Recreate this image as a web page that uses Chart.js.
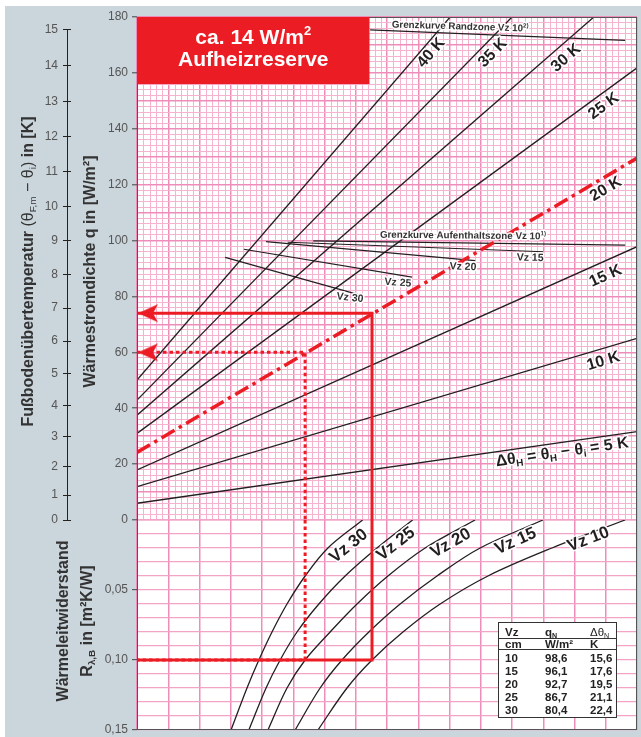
<!DOCTYPE html>
<html lang="de">
<head>
<meta charset="UTF-8">
<title>Auslegungsdiagramm Fußbodenheizung</title>
<script src="https://cdn.jsdelivr.net/npm/chart.js"></script>
<style>
  body { margin: 0; background: #fff; }
  canvas { display: block; }
</style>
</head>
<body>
<canvas id="diagramm" width="641" height="737"></canvas>
<script>
// --- Heizkennlinien (oberes Feld), q in W/m² ---
const kurvenK = [5, 10, 15, 20, 25, 30, 35, 40];
const qStart = [6.0, 11.9, 17.9, 24.2, 31.0, 37.5, 42.9, 50.1];
const xEnde = [16, 16, 16, 16, 16, 14.62, 12.0, 10.02];
const qEnde = [31.6, 65.0, 97.8, 129.5, 161.8, 180, 180, 180];

// --- Grenzkurven ---
const vzWerte = [10, 15, 20, 25, 30];
const grenzStartX = [5.64, 4.83, 4.13, 3.42, 2.82];
const grenzStartQ = [99.9, 99.4, 99.6, 96.9, 94.0];
const grenzEndeX = [15.62, 13.0, 10.82, 8.80, 7.20];
const grenzEndeQ = [98.4, 96.0, 92.8, 86.9, 80.3];
const randzoneX = [7.46, 15.62];
const randzoneQ = [175.4, 171.6];

// --- Wärmeleitwiderstand (unteres Feld) ---
const rStufen = [0, 0.02, 0.04, 0.06, 0.08, 0.10, 0.12, 0.15];
const vz10X = [15.62, 13.28, 11.23, 9.70, 8.51, 7.52, 6.72, 5.79];
const vz15X = [12.99, 10.98, 9.60, 8.42, 7.42, 6.56, 5.86, 5.06];
const vz20X = [10.82, 9.22, 8.03, 7.04, 6.18, 5.38, 4.80, 4.19];
const vz25X = [8.82, 7.68, 6.66, 5.82, 5.12, 4.58, 4.13, 3.58];
const vz30X = [7.22, 6.11, 5.38, 4.80, 4.32, 3.90, 3.52, 3.01];

// --- Ablesebeispiel ---
const beispielX = [7.52, 5.38];
const beispielQ = [74, 60];
const beispielR = 0.10;

// --- Tabelle ---
const tabVz = [10, 15, 20, 25, 30];
const tabQN = [98.6, 96.1, 92.7, 86.7, 80.4];
const tabDeltaN = [15.6, 17.6, 19.5, 21.1, 22.4];

// --- Achsbeschriftungen ---
const kTickLabels = [0, 1, 2, 3, 4, 5, 6, 7, 8, 9, 10, 11, 12, 13, 14, 15];
const qTickLabels = [0, 20, 40, 60, 80, 100, 120, 140, 160, 180];
const rTickWerte = [0.05, 0.10, 0.15];
const rTickText = ['0,05', '0,10', '0,15'];

const rot = '#ec1c24';
const schwarz = '#231f20';
const minorPink = '#f6b3cf';
const majorPink = '#ef8dba';
const schrift = '"Liberation Sans", Arial, sans-serif';

// Fußbodenübertemperatur -> Wärmestromdichte (Basiskennlinie q = 8,92 * dT^1,1)
const kZuQ = k => 8.92 * Math.pow(k, 1.1);

function pfeil() {
  const cv = document.createElement('canvas');
  cv.width = 46; cv.height = 20;
  const g = cv.getContext('2d');
  g.fillStyle = rot;
  g.beginPath();
  g.moveTo(24, 10); g.lineTo(44, 1); g.lineTo(39, 10); g.lineTo(44, 19);
  g.closePath();
  g.fill();
  return cv;
}
const pfeilBild = pfeil();

const datasets = [];

// rote Konstruktionslinien
beispielX.forEach((bx, i) => {
  const dash = i === 0 ? [] : [3.5, 3];
  datasets.push({
    data: [{x: 0, y: beispielQ[i]}, {x: bx, y: beispielQ[i]}, {x: bx, y: 0}],
    yAxisID: 'yQ', showLine: true, borderColor: rot, borderWidth: 3, borderDash: dash,
    pointRadius: c => c.dataIndex === 0 ? 5 : 0,
    pointStyle: c => c.dataIndex === 0 ? pfeilBild : false,
    order: 0
  });
  datasets.push({
    data: [{x: bx, y: 0}, {x: bx, y: beispielR}, {x: 0, y: beispielR}],
    yAxisID: 'yR', showLine: true, borderColor: rot, borderWidth: 3, borderDash: dash,
    pointRadius: 0, order: i === 0 ? 0 : 1
  });
});

kurvenK.forEach((k, i) => {
  const istRot = k === 20;
  datasets.push({
    data: [{x: 0, y: qStart[i]}, {x: xEnde[i], y: qEnde[i]}],
    yAxisID: 'yQ', showLine: true, pointRadius: 0,
    borderColor: istRot ? rot : schwarz,
    borderWidth: istRot ? 3.5 : 1.3,
    borderDash: istRot ? [15, 5, 3.5, 5] : [],
    order: istRot ? 1 : 3
  });
});

vzWerte.forEach((vz, i) => {
  datasets.push({
    data: [{x: grenzStartX[i], y: grenzStartQ[i]}, {x: grenzEndeX[i], y: grenzEndeQ[i]}],
    yAxisID: 'yQ', showLine: true, pointRadius: 0, borderColor: schwarz, borderWidth: 1.2, order: 3
  });
});
datasets.push({
  data: randzoneX.map((x, i) => ({x: x, y: randzoneQ[i]})),
  yAxisID: 'yQ', showLine: true, pointRadius: 0, borderColor: schwarz, borderWidth: 1.2, order: 3
});

const vzKurven = [vz10X, vz15X, vz20X, vz25X, vz30X];
vzKurven.forEach(xs => {
  datasets.push({
    data: xs.map((x, i) => ({x: x, y: rStufen[i]})),
    yAxisID: 'yR', showLine: true, pointRadius: 0, borderColor: schwarz, borderWidth: 1.3,
    tension: 0.35, order: 3
  });
});

// Text mit Tief-/Hochstellung; teile = [[text, art]], art: '', 'n', 'sub', 'nsub', 'sup'
function fontFuer(art, groesse) {
  const klein = art === 'sub' || art === 'sup' || art === 'nsub';
  const px = klein ? groesse * 0.62 : groesse;
  const gewicht = art.charAt(0) === 'n' ? 'normal' : 'bold';
  return gewicht + ' ' + px.toFixed(1) + 'px ' + schrift;
}
function zeichneText(c, teile, x, y, winkel, groesse, farbe, halo) {
  c.save();
  c.translate(x, y);
  c.rotate(winkel);
  c.textAlign = 'left';
  c.textBaseline = 'alphabetic';
  let breite = 0;
  for (const [t, art] of teile) { c.font = fontFuer(art, groesse); breite += c.measureText(t).width; }
  const durchgaenge = halo ? ['halo', 'fill'] : ['fill'];
  for (const d of durchgaenge) {
    let px = -breite / 2;
    for (const [t, art] of teile) {
      c.font = fontFuer(art, groesse);
      let dy = groesse * 0.36;
      if (art.endsWith('sub')) dy += groesse * 0.2;
      if (art === 'sup') dy -= groesse * 0.4;
      if (d === 'halo') {
        c.lineWidth = 3; c.lineJoin = 'round'; c.strokeStyle = 'rgba(255,255,255,0.95)';
        c.strokeText(t, px, dy);
      } else {
        c.fillStyle = farbe;
        c.fillText(t, px, dy);
      }
      px += c.measureText(t).width;
    }
  }
  c.restore();
}

// Lage der Beschriftungen (in Achswerten)
const kLabelPos = [[13.6, 24.7], [14.91, 57.3], [14.98, 87.7], [14.98, 118.8], [14.91, 148.5], [13.70, 165.7], [11.36, 167.5], [9.38, 167.5]];
const vzLabelPos = [[14.43, 0.0129], [12.10, 0.0143], [10.02, 0.0157], [8.26, 0.0164], [6.75, 0.0179]];
const grenzLabelPos = [null, [12.58, 94.1], [10.43, 90.9], [8.35, 85.2], [6.82, 79.8]];

const hintergrund = {
  id: 'hintergrund',
  beforeDraw(chart) {
    const c = chart.ctx, a = chart.chartArea;
    const xs = chart.scales.x, qs = chart.scales.yQ;
    c.save();
    c.fillStyle = '#fff';
    c.fillRect(0, 0, chart.width, chart.height);
    c.fillStyle = '#cbd5dc';
    c.fillRect(5, 6, chart.width - 5, chart.height - 6);
    c.fillStyle = '#fff';
    c.fillRect(a.left, a.top, a.right - a.left, a.bottom - a.top);
    // feine senkrechte Teilung nur im oberen Feld
    c.strokeStyle = minorPink;
    c.lineWidth = 1;
    c.beginPath();
    for (let i = 1; i < 80; i++) {
      if (i % 5 === 0) continue;
      const px = Math.round(xs.getPixelForValue(i / 5)) + 0.5;
      c.moveTo(px, qs.top);
      c.lineTo(px, qs.bottom);
    }
    c.stroke();
    c.restore();
  }
};

const beschriftung = {
  id: 'beschriftung',
  afterDatasetsDraw(chart) {
    const c = chart.ctx, a = chart.chartArea;
    const xs = chart.scales.x, qs = chart.scales.yQ, rs = chart.scales.yR;
    c.save();
    c.strokeStyle = '#555';
    c.lineWidth = 1;
    c.strokeRect(a.left + 0.5, a.top + 0.5, a.right - a.left - 1, a.bottom - a.top - 1);

    // rotes Feld
    const bx0 = xs.getPixelForValue(0), bx1 = xs.getPixelForValue(7.44);
    const by0 = qs.getPixelForValue(180), by1 = qs.getPixelForValue(156);
    c.fillStyle = rot;
    c.fillRect(bx0, by0, bx1 - bx0, by1 - by0);
    const bm = (bx0 + bx1) / 2;
    zeichneText(c, [['ca. 14 W/m', ''], ['2', 'sup']], bm, by0 + 19, 0, 21, '#fff', false);
    zeichneText(c, [['Aufheizreserve', '']], bm, by0 + 41, 0, 21, '#fff', false);

    // Kennlinien-Beschriftung
    kurvenK.forEach((k, i) => {
      const p1x = xs.getPixelForValue(0), p1y = qs.getPixelForValue(qStart[i]);
      const p2x = xs.getPixelForValue(xEnde[i]), p2y = qs.getPixelForValue(qEnde[i]);
      const w = Math.atan2(p2y - p1y, p2x - p1x);
      const lx = xs.getPixelForValue(kLabelPos[i][0]), ly = qs.getPixelForValue(kLabelPos[i][1]);
      const teile = k === 5
        ? [['Δθ', ''], ['H', 'sub'], [' = θ', ''], ['H', 'sub'], [' − θ', ''], ['i', 'sub'], [' = 5 K', '']]
        : [[k + ' K', '']];
      zeichneText(c, teile, lx, ly, w, 16, schwarz, true);
    });

    // Vz-Kurven unten
    vzKurven.forEach((xsVz, i) => {
      const p1x = xs.getPixelForValue(xsVz[0]), p1y = rs.getPixelForValue(rStufen[0]);
      const p2x = xs.getPixelForValue(xsVz[1]), p2y = rs.getPixelForValue(rStufen[1]);
      const w = Math.atan2(p1y - p2y, p1x - p2x);
      const lx = xs.getPixelForValue(vzLabelPos[i][0]), ly = rs.getPixelForValue(vzLabelPos[i][1]);
      zeichneText(c, [['Vz ' + vzWerte[i], '']], lx, ly, w, 17, schwarz, true);
    });

    // Grenzkurven
    vzWerte.forEach((vz, i) => {
      if (!grenzLabelPos[i]) return;
      const p1x = xs.getPixelForValue(grenzStartX[i]), p1y = qs.getPixelForValue(grenzStartQ[i]);
      const p2x = xs.getPixelForValue(grenzEndeX[i]), p2y = qs.getPixelForValue(grenzEndeQ[i]);
      const w = Math.atan2(p2y - p1y, p2x - p1x) * 0.4;
      const lx = xs.getPixelForValue(grenzLabelPos[i][0]), ly = qs.getPixelForValue(grenzLabelPos[i][1]);
      zeichneText(c, [['Vz ' + vz, '']], lx, ly, w, 10.5, '#333', true);
    });
    zeichneText(c, [['Grenzkurve Aufenthaltszone Vz 10', ''], ['1)', 'sup']],
      xs.getPixelForValue(10.43), qs.getPixelForValue(102.0), 0.01, 9.8, '#333', true);
    zeichneText(c, [['Grenzkurve Randzone Vz 10', ''], ['2)', 'sup']],
      xs.getPixelForValue(10.34), qs.getPixelForValue(176.8), 0.03, 9.8, '#333', true);

    // Tabelle
    const tr = a.right - 20, tb = a.bottom - 12, tl = tr - 119, tt = tb - 96;
    c.fillStyle = '#fff';
    c.fillRect(tl, tt, tr - tl, tb - tt);
    c.strokeStyle = '#333';
    c.lineWidth = 1;
    c.strokeRect(tl + 0.5, tt + 0.5, tr - tl - 1, tb - tt - 1);
    c.beginPath();
    c.moveTo(tl, tt + 16.5); c.lineTo(tr, tt + 16.5);
    c.moveTo(tl, tt + 27.5); c.lineTo(tr, tt + 27.5);
    c.stroke();
    const sp = [tl + 7, tl + 47, tl + 92];
    const links = (teile, x, y) => {
      let b = 0;
      for (const [t, art] of teile) { c.font = fontFuer(art, 11.5); b += c.measureText(t).width; }
      zeichneText(c, teile, x + b / 2, y, 0, 11.5, '#222', false);
    };
    links([['Vz', '']], sp[0], tt + 10);
    links([['q', ''], ['N', 'sub']], sp[1], tt + 10);
    links([['Δθ', 'n'], ['N', 'nsub']], sp[2], tt + 10);
    links([['cm', '']], sp[0], tt + 21.5);
    links([['W/m²', '']], sp[1], tt + 21.5);
    links([['K', '']], sp[2], tt + 21.5);
    tabVz.forEach((vz, i) => {
      const y = tt + 36 + i * 13;
      links([[String(vz), '']], sp[0], y);
      links([[tabQN[i].toFixed(1).replace('.', ','), '']], sp[1], y);
      links([[tabDeltaN[i].toFixed(1).replace('.', ','), '']], sp[2], y);
    });
    c.restore();
  },
  afterDraw(chart) {
    const c = chart.ctx;
    const ks = chart.scales.yK, qs = chart.scales.yQ, rs = chart.scales.yR;
    c.save();
    // Achslinie der Temperaturskala
    const lx = Math.round(ks.right - 4) + 0.5;
    c.strokeStyle = '#222';
    c.lineWidth = 1;
    c.beginPath();
    c.moveTo(lx, ks.getPixelForValue(kZuQ(15)));
    c.lineTo(lx, ks.getPixelForValue(0));
    c.stroke();
    const qMitte = (qs.top + qs.bottom) / 2 + 3;
    zeichneText(c, [['Fußbodenübertemperatur ', ''], ['(θ', 'n'], ['F,m', 'nsub'], [' − θ', 'n'], ['i', 'nsub'], [')', 'n'], [' in [K]', '']],
      27, qMitte, -Math.PI / 2, 16, '#333', false);
    zeichneText(c, [['Wärmestromdichte q in [W/m²]', '']], 89, qMitte, -Math.PI / 2, 16, '#333', false);
    const rMitte = (rs.top + rs.bottom) / 2 - 4;
    zeichneText(c, [['Wärmeleitwiderstand', '']], 62, rMitte, -Math.PI / 2, 16, '#333', false);
    zeichneText(c, [['R', ''], ['λ,B', 'sub'], [' in [m²K/W]', '']], 86, rMitte, -Math.PI / 2, 16, '#333', false);
    c.restore();
  }
};

const tickFont = { family: schrift, size: 12 };
// Randabstände der Beschriftungen sollen die Zeichenfläche nicht verkleinern
const keinRand = s => { s.paddingTop = 0; s.paddingBottom = 0; };

new Chart(document.getElementById('diagramm'), {
  type: 'scatter',
  data: { datasets: datasets },
  options: {
    responsive: false,
    animation: false,
    events: [],
    layout: { padding: { top: 17, right: 4, bottom: 7, left: 0 }, autoPadding: false },
    plugins: { legend: { display: false }, tooltip: { enabled: false } },
    scales: {
      x: {
        type: 'linear', axis: 'x', position: 'bottom', min: 0, max: 16,
        afterBuildTicks: axis => {
          axis.ticks = [];
          for (let v = 0; v <= 16; v++) axis.ticks.push({ value: v });
        },
        afterFit: s => { s.height = 0; s.paddingLeft = 0; s.paddingRight = 0; },
        ticks: { display: false, autoSkip: false },
        grid: { color: majorPink, lineWidth: 1.5, drawTicks: false },
        border: { display: false }
      },
      yK: {
        type: 'linear', axis: 'y', position: 'left', weight: 10,
        min: -180 * 210 / 503, max: 180,
        afterBuildTicks: axis => {
          axis.ticks = kTickLabels.map(k => ({ value: kZuQ(k) }));
        },
        afterFit: s => { s.width = 71; keinRand(s); },
        ticks: { autoSkip: false, padding: 5, color: '#555', font: tickFont,
          callback: (v, i) => kTickLabels[i] },
        grid: { drawOnChartArea: false, tickLength: 8, color: '#222', tickWidth: 1 },
        border: { display: false }
      },
      yQ: {
        type: 'linear', axis: 'y', position: 'left', stack: 'links', stackWeight: 503, weight: 2,
        min: 0, max: 180,
        afterBuildTicks: axis => {
          axis.ticks = [];
          for (let v = 0; v <= 180; v += 2) axis.ticks.push({ value: v });
        },
        afterFit: s => { s.width = 66; keinRand(s); },
        ticks: { autoSkip: false, padding: 4, color: '#555', font: tickFont,
          callback: v => qTickLabels.includes(v) ? String(v) : '' },
        grid: {
          color: c => c.tick.value % 10 === 0 ? majorPink : minorPink,
          lineWidth: c => c.tick.value % 10 === 0 ? 1.6 : 1,
          tickColor: c => qTickLabels.includes(c.tick.value) ? '#444' : 'rgba(0,0,0,0)',
          tickWidth: 1, tickLength: 5
        },
        border: { display: false }
      },
      yR: {
        type: 'linear', axis: 'y', position: 'left', stack: 'links', stackWeight: 210, weight: 1,
        min: 0, max: 0.15, reverse: true,
        afterBuildTicks: axis => {
          axis.ticks = [];
          for (let i = 0; i <= 15; i++) axis.ticks.push({ value: i / 100 });
        },
        afterFit: s => { s.width = 66; keinRand(s); },
        ticks: { autoSkip: false, padding: 4, color: '#555', font: tickFont,
          callback: v => {
            const j = rTickWerte.findIndex(w => Math.abs(w - v) < 1e-6);
            return j >= 0 ? rTickText[j] : '';
          } },
        grid: {
          color: '#f3a3c5', lineWidth: 1.3,
          tickColor: c => rTickWerte.some(w => Math.abs(w - c.tick.value) < 1e-6) ? '#444' : 'rgba(0,0,0,0)',
          tickWidth: 1, tickLength: 5
        },
        border: { display: false }
      }
    }
  },
  plugins: [hintergrund, beschriftung]
});
</script>
</body>
</html>
